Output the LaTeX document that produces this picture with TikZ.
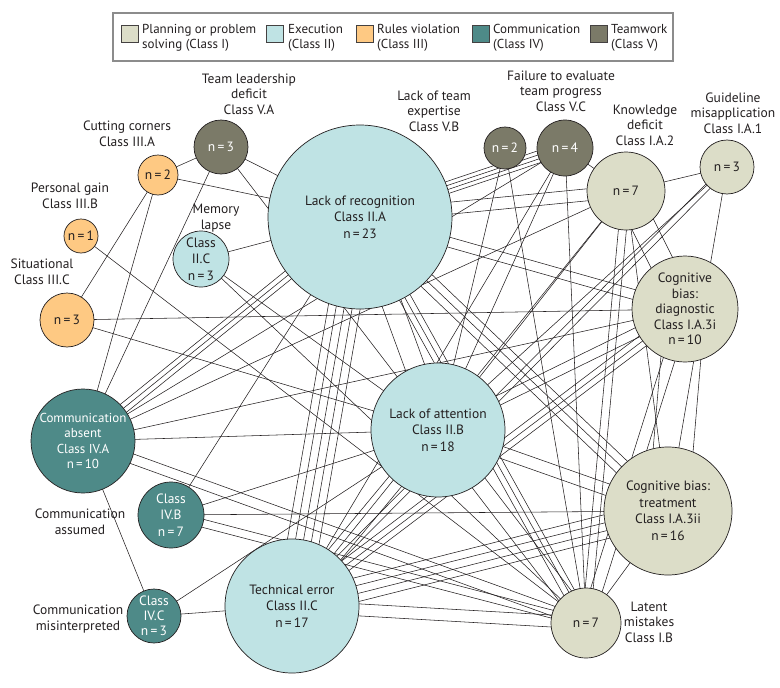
\documentclass[tikz,border=0pt]{standalone}
\usepackage{fontspec}
\setmainfont{PT Sans}
\usepackage{tikz}
\usetikzlibrary{calc,backgrounds}
\definecolor{ink}{HTML}{231F20}
\definecolor{planning}{HTML}{DCDDC8}
\definecolor{execution}{HTML}{BFE3E4}
\definecolor{rules}{HTML}{FEC983}
\definecolor{communic}{HTML}{4E8A88}
\definecolor{teamwork}{HTML}{7B7A68}
\definecolor{framegray}{HTML}{8C8C8C}
\tikzset{
  cls/.style={circle, draw=ink, line width=0.7pt, inner sep=0pt, align=center, font=\fontsize{13.5}{16.5}\selectfont},
  classI/.style={cls, fill=planning, text=ink},
  classII/.style={cls, fill=execution, text=ink},
  classIII/.style={cls, fill=rules, text=ink},
  classIV/.style={cls, fill=communic, text=white},
  classV/.style={cls, fill=teamwork, text=white},
  lab/.style={text=ink, align=center, inner sep=0pt, font=\fontsize{13.5}{15.5}\selectfont},
  link/.style={draw=ink, line width=0.55pt},
  swatch/.style={draw=ink!85, line width=0.6pt, minimum size=17pt, inner sep=0pt},
  legtext/.style={lab, align=left, anchor=west, font=\fontsize{13}{15}\selectfont},
  legbox/.style={draw=framegray, line width=1.2pt},
}

\begin{document}
\begin{tikzpicture}[x=1pt, y=-1pt]
  \useasboundingbox (0,0) rectangle (780,688);

  % legend
  \draw[legbox] (113,13) rectangle (673,61);
  \node[swatch, fill=planning] (sw1) at (130,34) {};
  \node[legtext] (lg1) at (142,37.5) {Planning or problem\\solving (Class I)};
  \node[swatch, fill=execution] (sw2) at (275,34) {};
  \node[legtext] (lg2) at (288,37.5) {Execution\\(Class II)};
  \node[swatch, fill=rules] (sw3) at (365,34) {};
  \node[legtext] (lg3) at (377,37.5) {Rules violation\\(Class III)};
  \node[swatch, fill=communic] (sw4) at (481,34) {};
  \node[legtext] (lg4) at (493,37.5) {Communication\\(Class IV)};
  \node[swatch, fill=teamwork] (sw5) at (599,34) {};
  \node[legtext] (lg5) at (611,37.5) {Teamwork\\(Class V)};

  % class nodes
  \node[classII, minimum size=184pt] (LR) at (360,217) {Lack of recognition\\Class II.A\\n\,=\,23};
  \node[classII, minimum size=134pt] (LA) at (438,430) {Lack of attention\\Class II.B\\n\,=\,18};
  \node[classII, minimum size=134pt] (TE) at (292,606) {Technical error\\Class II.C\\n\,=\,17};
  \node[classII, minimum size=56pt] (IIC) at (201,259) {Class\\II.C\\n\,=\,3};
  \node[classIV, minimum size=104pt, font=\fontsize{13}{15.5}\selectfont] (CA) at (83,441) {Communication\\absent\\Class IV.A\\n\,=\,10};
  \node[classIV, minimum size=66pt] (IVB) at (171,515) {Class\\IV.B\\n\,=\,7};
  \node[classIV, minimum size=54pt, font=\fontsize{13.5}{15}\selectfont] (IVC) at (154,616) {Class\\IV.C\\n\,=\,3};
  \node[classIII, minimum size=54pt] (IIIC) at (67,320) {n\,=\,3};
  \node[classIII, minimum size=34pt] (IIIB) at (81,236) {n\,=\,1};
  \node[classIII, minimum size=40pt] (IIIA) at (158,175) {n\,=\,2};
  \node[classV, minimum size=54pt] (VA) at (221,147) {n\,=\,3};
  \node[classV, minimum size=42pt] (VB) at (505,148) {n\,=\,2};
  \node[classV, minimum size=56pt] (VC) at (565,148) {n\,=\,4};
  \node[classI, minimum size=78pt] (KD) at (626,191) {n\,=\,7};
  \node[classI, minimum size=54pt] (GM) at (727,167) {n\,=\,3};
  \node[classI, minimum size=106pt, font=\fontsize{13.5}{15.5}\selectfont] (CBD) at (685,309) {Cognitive\\bias:\\diagnostic\\Class I.A.3i\\n\,=\,10};
  \node[classI, minimum size=128pt] (CBT) at (668,511) {Cognitive bias:\\treatment\\Class I.A.3ii\\n\,=\,16};
  \node[classI, minimum size=70pt] (LM) at (586,623) {n\,=\,7};

  % outside labels
  \node[lab] (lVA) at (249,94) {Team leadership\\deficit\\Class V.A};
  \node[lab] (lIIIA) at (127,134) {Cutting corners\\Class III.A};
  \node[lab] (lIIIB) at (70,196) {Personal gain\\Class III.B};
  \node[lab] (lIIIC) at (42,272) {Situational\\Class III.C};
  \node[lab] (lIIC) at (216,218) {Memory\\lapse};
  \node[lab] (lVB) at (434,111) {Lack of team\\expertise\\Class V.B};
  \node[lab] (lVC) at (561,91) {Failure to evaluate\\team progress\\Class V.C};
  \node[lab] (lKD) at (645,125) {Knowledge\\deficit\\Class I.A.2};
  \node[lab] (lGM) at (733,113) {Guideline\\misapplication\\Class I.A.1};
  \node[lab] (lIVB) at (80,522) {Communication\\assumed};
  \node[lab] (lIVC) at (78,619) {Communication\\misinterpreted};
  \node[lab] (lLM) at (649,622) {Latent\\mistakes\\Class I.B};

  % co-occurrence links, behind the circles
  \begin{pgfonlayer}{background}
    \foreach \a/\b/\o in {
      IIIB/LM/0pt, IIIA/VA/0pt, IIIA/LR/0pt, IIIA/IIIC/0pt, IIIA/CA/0pt,
      IIIC/CBD/0pt, IIIC/LA/0pt, VA/LR/0pt, VA/LA/0pt, VA/CA/0pt,
      IIC/LR/0pt, IIC/LA/0pt, IIC/LM/0pt,
      CA/LR/-5pt, CA/LR/0pt, CA/LR/5pt, CA/VC/0pt, CA/KD/0pt, CA/LM/-5pt, CA/LM/5pt,
      CA/LA/0pt, CA/CBD/0pt, CA/IVC/0pt,
      IVB/LR/0pt, IVB/CBT/0pt, IVB/LM/-4pt, IVB/LM/4pt, IVB/LA/0pt,
      IVC/LA/0pt, IVC/TE/0pt, VB/LA/0pt, VB/LM/0pt,
      VC/LR/-6pt, VC/LR/-2pt, VC/LR/2pt, VC/LR/6pt, VC/KD/0pt, VC/LM/0pt, VC/TE/0pt, VC/LA/0pt,
      KD/GM/0pt, KD/LR/-6pt, KD/LR/6pt, KD/CBD/-12pt, KD/CBD/12pt, KD/LM/-4pt, KD/LM/4pt,
      KD/TE/0pt, KD/LA/0pt, KD/CBT/0pt,
      GM/TE/-3pt, GM/TE/3pt, GM/LA/0pt, GM/CBT/0pt,
      LR/CBD/-5pt, LR/CBD/5pt, LR/CBT/-8pt, LR/CBT/0pt, LR/CBT/8pt,
      LR/LM/-6pt, LR/LM/0pt, LR/LM/6pt,
      LR/TE/-16pt, LR/TE/-8pt, LR/TE/0pt, LR/TE/8pt, LR/TE/16pt, LR/LA/-10pt, LR/LA/10pt,
      LA/CBD/-5pt, LA/CBD/5pt, LA/CBT/-6pt, LA/CBT/6pt, LA/LM/-8pt, LA/LM/8pt,
      LA/TE/-8pt, LA/TE/8pt,
      TE/CBD/-6pt, TE/CBD/0pt, TE/CBD/6pt, TE/CBT/-12pt, TE/CBT/-4pt, TE/CBT/4pt, TE/CBT/12pt,
      TE/LM/-6pt, TE/LM/6pt,
      CBD/LM/-6pt, CBD/LM/6pt, CBD/CBT/-20pt, CBD/CBT/20pt, CBT/LM/0pt}
      \draw[link] ($(\a)!\o!90:(\b)$) -- ($(\b)!\o!-90:(\a)$);
  \end{pgfonlayer}
\end{tikzpicture}
\end{document}
